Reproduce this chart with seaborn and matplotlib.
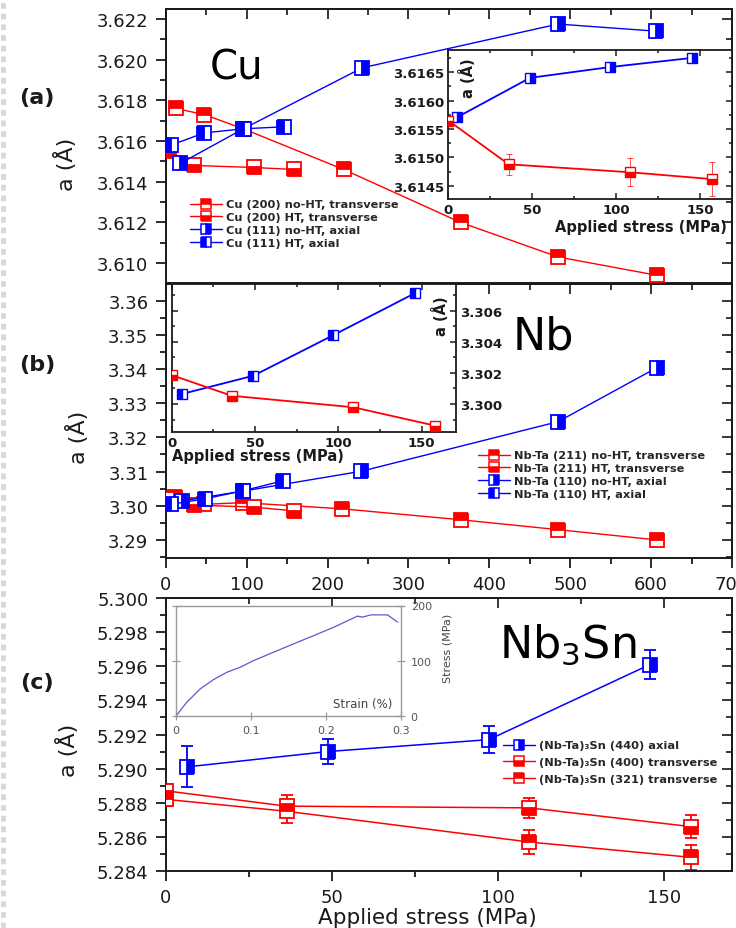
import matplotlib
matplotlib.use('Agg')
import matplotlib.pyplot as plt
import seaborn as sns
from matplotlib.ticker import MultipleLocator, FormatStrFormatter, FixedLocator
from matplotlib.lines import Line2D

sns.set_theme(style='ticks')
plt.rcParams['font.family'] = ['DejaVu Sans']
plt.rcParams['mathtext.fontset'] = 'dejavusans'

RED = '#ff0000'
BLUE = '#0000ff'

# ---------------- data: panel (a) Cu ----------------
cu_noht_trans_x = [12.6, 47.6, 96, 220, 364.5, 485, 607]
cu_noht_trans_y = [3.6176, 3.6173, 3.6166, 3.6146, 3.6120, 3.6103, 3.6094]
cu_ht_trans_x = [4.3, 34.4, 108.7, 158]
cu_ht_trans_y = [3.6155, 3.6148, 3.6147, 3.6146]
cu_noht_axial_x = [18, 96, 243, 485, 606]
cu_noht_axial_y = [3.6149, 3.6166, 3.6196, 3.62175, 3.6214]
cu_ht_axial_x = [6.8, 47.6, 96.3, 145.8]
cu_ht_axial_y = [3.6158, 3.6164, 3.6166, 3.6167]
# inset (a)
cu_in_axial_x = [5.4, 48.7, 96.4, 145]
cu_in_axial_y = [3.61571, 3.61640, 3.61659, 3.61675]
cu_in_trans_x = [0, 36, 108.3, 157]
cu_in_trans_y = [3.61565, 3.61488, 3.61474, 3.61462]
cu_in_trans_err = [0.0, 0.00018, 0.00025, 0.00030]
cu_labels = ['Cu (200) no-HT, transverse', 'Cu (200) HT, transverse',
             'Cu (111) no-HT, axial', 'Cu (111) HT, axial']

# ---------------- data: panel (b) Nb ----------------
nb_noht_trans_x = [12, 47, 95, 218, 364.5, 485, 607]
nb_noht_trans_y = [3.3027, 3.3004, 3.3009, 3.2991, 3.2959, 3.2930, 3.2900]
nb_ht_trans_x = [2, 35, 109, 158]
nb_ht_trans_y = [3.3020, 3.3002, 3.2996, 3.2985]
nb_noht_axial_x = [20, 96, 242, 485, 607]
nb_noht_axial_y = [3.3014, 3.3043, 3.3101, 3.3246, 3.3404]
nb_ht_axial_x = [6, 48, 96, 145]
nb_ht_axial_y = [3.3004, 3.3020, 3.3044, 3.3073]
# inset (b)
nb_in_axial_x = [6, 49, 97, 146]
nb_in_axial_y = [3.30064, 3.30182, 3.30443, 3.30713]
nb_in_trans_x = [0, 36, 109, 158]
nb_in_trans_y = [3.30186, 3.30053, 3.29979, 3.29861]
nb_labels = ['Nb-Ta (211) no-HT, transverse', 'Nb-Ta (211) HT, transverse',
             'Nb-Ta (110) no-HT, axial', 'Nb-Ta (110) HT, axial']

# ---------------- data: panel (c) Nb3Sn ----------------
sn440_x = [6.3, 48.7, 97.2, 145.6]
sn440_y = [5.2901, 5.2910, 5.2917, 5.2961]
sn440_err = [0.0012, 0.00073, 0.00078, 0.00085]
sn400_x = [0, 36.4, 109.3, 158]
sn400_y = [5.2887, 5.2878, 5.2877, 5.2866]
sn400_err = [0.0004, 0.00066, 0.00059, 0.00067]
sn321_x = [0, 36.4, 109.3, 158]
sn321_y = [5.2882, 5.2875, 5.2857, 5.2848]
sn321_err = [0.0004, 0.00066, 0.00068, 0.00072]
sn_labels = ['(Nb-Ta)\u2083Sn (440) axial', '(Nb-Ta)\u2083Sn (400) transverse',
             '(Nb-Ta)\u2083Sn (321) transverse']
# inset (c): stress-strain curve
ss_strain = [0.0, 0.0013, 0.0147, 0.0325, 0.0503, 0.0682, 0.086, 0.1037, 0.1305,
             0.157, 0.184, 0.2107, 0.242, 0.2487, 0.26, 0.282, 0.2955]
ss_stress = [0, 1, 24.4, 48.5, 65.5, 78.9, 88, 100, 115.3, 130.4, 145.5, 160.7,
             180.7, 178.9, 183, 183, 169.8]

# ---------------- figure ----------------
W, H = 736, 929
fig = plt.figure(figsize=(W / 100, H / 100), dpi=100)
fig.patch.set_facecolor('white')


def box(l, t, r, b):
    return [l / W, 1 - b / H, (r - l) / W, (b - t) / H]


def series(ax, x, y, color, fs, ms=10, mew=1.3, lw=1.0, z=3):
    sns.lineplot(x=x, y=y, ax=ax, color=color, marker='s', markersize=ms,
                 fillstyle=fs, markerfacecoloralt='white',
                 markeredgecolor=color, markeredgewidth=mew, linewidth=lw,
                 zorder=z, errorbar=None, sort=False, legend=False)


def style_main(ax, xmaj, xmin, ymaj, ymin, yfmt, xlabels=True):
    for s in ax.spines.values():
        s.set_linewidth(1.4)
        s.set_color('#1a1a1a')
    ax.xaxis.set_major_locator(MultipleLocator(xmaj))
    ax.xaxis.set_minor_locator(MultipleLocator(xmin))
    ax.yaxis.set_major_locator(MultipleLocator(ymaj))
    ax.yaxis.set_minor_locator(MultipleLocator(ymin))
    ax.yaxis.set_major_formatter(FormatStrFormatter(yfmt))
    ax.tick_params(which='both', direction='out', top=False, right=False,
                   colors='#1a1a1a', labelsize=13, width=1.3)
    ax.tick_params(which='major', length=7.5)
    ax.tick_params(which='minor', length=4)
    ax.tick_params(axis='y', pad=5)
    ax.tick_params(axis='x', pad=4.5, labelbottom=xlabels)
    ax.set_xlabel('')
    ax.set_ylabel('')
    secx = ax.secondary_xaxis('top')
    secx.xaxis.set_major_locator(MultipleLocator(xmaj))
    secx.xaxis.set_minor_locator(MultipleLocator(xmin))
    secx.tick_params(which='both', direction='in', labeltop=False, width=1.3)
    secx.tick_params(which='major', length=7.5)
    secx.tick_params(which='minor', length=4)
    secy = ax.secondary_yaxis('right')
    secy.yaxis.set_major_locator(MultipleLocator(ymaj))
    secy.yaxis.set_minor_locator(MultipleLocator(ymin))
    secy.tick_params(which='both', direction='in', labelright=False, width=1.3)
    secy.tick_params(which='major', length=7.5)
    secy.tick_params(which='minor', length=4)


def style_inset(ax, xmaj, xmin, ymaj, ymin, yfmt, yside='left'):
    ax.set_facecolor('white')
    for s in ax.spines.values():
        s.set_linewidth(1.3)
        s.set_color('#1a1a1a')
    ax.xaxis.set_major_locator(MultipleLocator(xmaj))
    ax.xaxis.set_minor_locator(MultipleLocator(xmin))
    ax.yaxis.set_major_locator(MultipleLocator(ymaj))
    ax.yaxis.set_minor_locator(MultipleLocator(ymin))
    ax.yaxis.set_major_formatter(FormatStrFormatter(yfmt))
    ax.tick_params(which='both', direction='in', top=True, right=True,
                   bottom=True, left=True, labelsize=9.5, width=1.1,
                   colors='#1a1a1a')
    ax.tick_params(which='major', length=4.5)
    ax.tick_params(which='minor', length=2.5)
    ax.tick_params(axis='x', pad=3)
    ax.tick_params(axis='y', pad=3)
    if yside == 'right':
        ax.tick_params(axis='y', labelleft=False, labelright=True)
    for lab in ax.get_xticklabels() + ax.get_yticklabels():
        lab.set_fontweight('bold')
    ax.set_xlabel('')
    ax.set_ylabel('')


def legend_handle(color, fs):
    return Line2D([], [], color=color, lw=1.0, marker='s', markersize=7,
                  fillstyle=fs, markerfacecoloralt='white',
                  markeredgecolor=color, markeredgewidth=1.1)


# ---------------- panel (a) ----------------
ax_a = fig.add_axes(box(165.7, 10, 732, 284))
series(ax_a, cu_noht_trans_x, cu_noht_trans_y, RED, 'top')
series(ax_a, cu_ht_trans_x, cu_ht_trans_y, RED, 'bottom')
series(ax_a, cu_noht_axial_x, cu_noht_axial_y, BLUE, 'right')
series(ax_a, cu_ht_axial_x, cu_ht_axial_y, BLUE, 'left')
ax_a.set_xlim(0, 700)
ax_a.set_ylim(3.60902, 3.62249)
style_main(ax_a, 100, 50, 0.002, 0.001, '%.3f', xlabels=False)
hs = [legend_handle(RED, 'top'), legend_handle(RED, 'bottom'),
      legend_handle(BLUE, 'right'), legend_handle(BLUE, 'left')]
ax_a.legend(hs, cu_labels, loc='upper left', bbox_to_anchor=(190 / W, 1 - 200.5 / H),
            bbox_transform=fig.transFigure, frameon=False, borderpad=0,
            borderaxespad=0, handlelength=2.8, handletextpad=0.4,
            labelspacing=0.26, prop={'size': 8.2, 'weight': 'bold'})

# inset (a)
ia = fig.add_axes(box(448.3, 51, 731.7, 200))
ia.errorbar(cu_in_trans_x, cu_in_trans_y, yerr=cu_in_trans_err, fmt='none',
            ecolor=RED, elinewidth=0.7, capsize=2.2, capthick=0.7, alpha=0.7, zorder=2)
series(ia, cu_in_axial_x, cu_in_axial_y, BLUE, 'right', ms=6.5, mew=1.0, lw=1.3)
series(ia, cu_in_trans_x, cu_in_trans_y, RED, 'bottom', ms=6.5, mew=1.0, lw=1.3)
ia.set_xlim(0, 168.9)
ia.set_ylim(3.61427, 3.61689)
style_inset(ia, 50, 25, 0.0005, 0.00025, '%.4f', 'left')
fig.text(641 / W, 1 - 227.7 / H, 'Applied stress (MPa)', ha='center', va='center',
         fontsize=10.5, fontweight='bold', color='#1a1a1a')
fig.text(467.5 / W, 1 - 78 / H, 'a (\u00c5)', ha='center', va='center', rotation=90,
         fontsize=10.5, fontweight='bold', color='#1a1a1a')

# ---------------- panel (b) ----------------
ax_b = fig.add_axes(box(165.7, 285, 732, 559))
series(ax_b, nb_noht_trans_x, nb_noht_trans_y, RED, 'top')
series(ax_b, nb_ht_trans_x, nb_ht_trans_y, RED, 'bottom')
series(ax_b, nb_noht_axial_x, nb_noht_axial_y, BLUE, 'right')
series(ax_b, nb_ht_axial_x, nb_ht_axial_y, BLUE, 'left')
ax_b.set_xlim(0, 700)
ax_b.set_ylim(3.2847, 3.3649)
style_main(ax_b, 100, 50, 0.01, 0.005, '%.2f', xlabels=True)
hs = [legend_handle(RED, 'top'), legend_handle(RED, 'bottom'),
      legend_handle(BLUE, 'right'), legend_handle(BLUE, 'left')]
ax_b.legend(hs, nb_labels, loc='upper left', bbox_to_anchor=(478 / W, 1 - 451.5 / H),
            bbox_transform=fig.transFigure, frameon=False, borderpad=0,
            borderaxespad=0, handlelength=2.8, handletextpad=0.4,
            labelspacing=0.24, prop={'size': 8.2, 'weight': 'bold'})

# inset (b)
ib = fig.add_axes(box(171.7, 285, 456, 433.3))
series(ib, nb_in_axial_x, nb_in_axial_y, BLUE, 'left', ms=6.5, mew=1.0, lw=1.3)
series(ib, nb_in_trans_x, nb_in_trans_y, RED, 'bottom', ms=6.5, mew=1.0, lw=1.3)
ib.set_xlim(0, 170.6)
ib.set_ylim(3.29818, 3.30772)
style_inset(ib, 50, 25, 0.002, 0.001, '%.3f', 'right')
fig.text(257.5 / W, 1 - 456.7 / H, 'Applied stress (MPa)', ha='center', va='center',
         fontsize=10.5, fontweight='bold', color='#1a1a1a')
fig.text(441 / W, 1 - 316 / H, 'a (\u00c5)', ha='center', va='center', rotation=90,
         fontsize=10.5, fontweight='bold', color='#1a1a1a')

# ---------------- panel (c) ----------------
ax_c = fig.add_axes(box(165.7, 599, 732, 872))
for xs, ys, es, col in [(sn440_x, sn440_y, sn440_err, BLUE),
                        (sn400_x, sn400_y, sn400_err, RED),
                        (sn321_x, sn321_y, sn321_err, RED)]:
    ax_c.errorbar(xs, ys, yerr=es, fmt='none', ecolor=col, elinewidth=1.3,
                  capsize=4, capthick=1.3, zorder=2)
series(ax_c, sn440_x, sn440_y, BLUE, 'right', ms=10.5, mew=1.3, lw=1.1)
series(ax_c, sn400_x, sn400_y, RED, 'bottom', ms=10.5, mew=1.3, lw=1.1)
series(ax_c, sn321_x, sn321_y, RED, 'top', ms=10.5, mew=1.3, lw=1.1)
ax_c.set_xlim(0, 170.3)
ax_c.set_ylim(5.284, 5.300)
style_main(ax_c, 50, 25, 0.002, 0.001, '%.3f', xlabels=True)
ax_c.tick_params(axis='x', pad=4.5)
hs = [legend_handle(BLUE, 'right'), legend_handle(RED, 'bottom'),
      legend_handle(RED, 'top')]
ax_c.legend(hs, sn_labels, loc='upper left', bbox_to_anchor=(503 / W, 1 - 741.5 / H),
            bbox_transform=fig.transFigure, frameon=False, borderpad=0,
            borderaxespad=0, handlelength=2.8, handletextpad=0.4,
            labelspacing=0.6, prop={'size': 8.2, 'weight': 'bold'})

# inset (c)
ic = fig.add_axes(box(175.7, 606.5, 401, 716.7))
ic.set_facecolor('white')
sns.lineplot(x=ss_strain, y=ss_stress, ax=ic, color='#5a5ad0', linewidth=0.9,
             errorbar=None, sort=False, legend=False)
ic.set_xlim(0, 0.3)
ic.set_ylim(0, 200)
for s in ic.spines.values():
    s.set_color('#9a9a9a')
    s.set_linewidth(1.0)
ic.xaxis.set_major_locator(FixedLocator([0, 0.1, 0.2, 0.3]))
ic.yaxis.set_major_locator(FixedLocator([0, 100, 200]))
ic.set_xticklabels(['0', '0.1', '0.2', '0.3'])
ic.tick_params(which='both', direction='inout', length=6, width=0.9,
               colors='#9a9a9a', labelcolor='#555555', labelsize=8,
               left=True, right=True, labelleft=False, labelright=True)
ic.tick_params(axis='x', pad=4)
ic.tick_params(axis='y', pad=4)
ic.set_xlabel('')
ic.set_ylabel('')
fig.text(362.5 / W, 1 - 705 / H, 'Strain (%)', ha='center', va='center',
         fontsize=8.5, color='#444444')
fig.text(447 / W, 1 - 648 / H, 'Stress (MPa)', ha='center', va='center',
         rotation=90, fontsize=8, color='#444444')

# ---------------- figure texts ----------------
fig.text(237 / W, 1 - 68 / H, 'Cu', ha='center', va='center', fontsize=29, color='black')
fig.text(543.5 / W, 1 - 337 / H, 'Nb', ha='center', va='center', fontsize=32, color='black')
fig.text(568 / W, 1 - 645 / H, 'Nb$_3$Sn', ha='center', va='center', fontsize=32,
         color='black')

for lab, yy in [('(a)', 98), ('(b)', 365), ('(c)', 683)]:
    fig.text(37 / W, 1 - yy / H, lab, ha='center', va='center', fontsize=16,
             fontweight='bold', color='#1a1a1a')

for xx, yy in [(66, 164), (77, 437), (68, 750)]:
    fig.text(xx / W, 1 - yy / H, 'a (\u00c5)', ha='center', va='center',
             rotation=90, fontsize=16, color='#1a1a1a')

fig.text(427 / W, 1 - 918.5 / H, 'Applied stress (MPa)', ha='center', va='center',
         fontsize=15.5, color='#1a1a1a')

# faint striped page edge at far left
fig.add_artist(Line2D([2.5 / W, 2.5 / W], [0, 1], transform=fig.transFigure,
                      color='#d8d8d8', lw=3.5, dashes=(1.2, 1.0)))

fig.savefig('out.png', dpi=100, facecolor='white')
